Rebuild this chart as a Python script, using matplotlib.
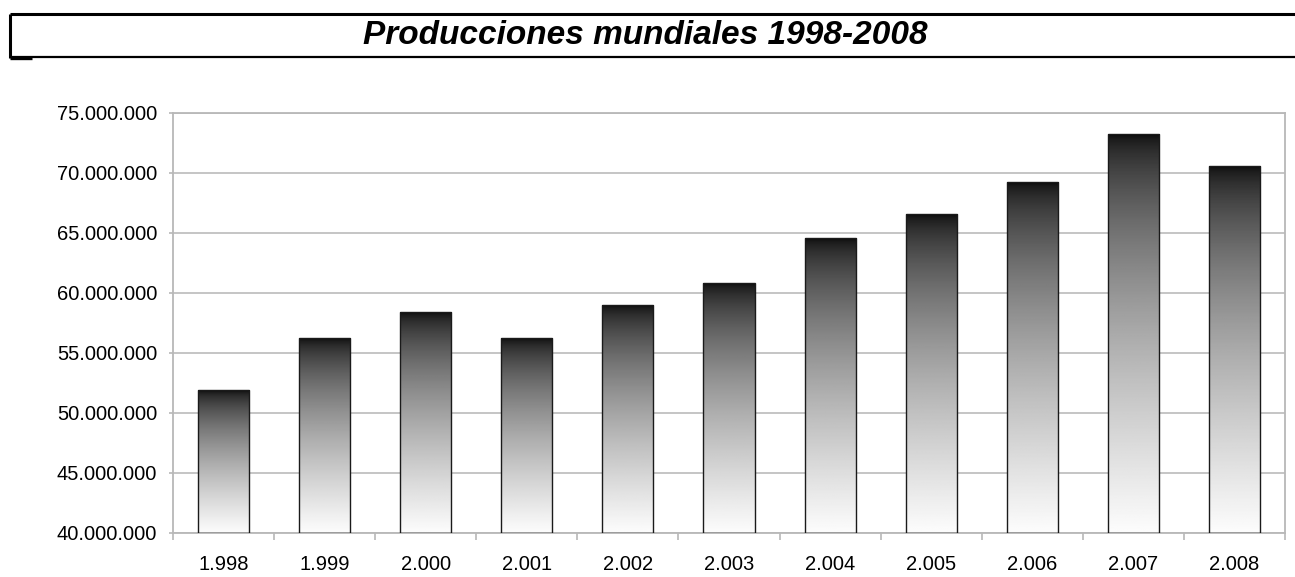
import numpy as np
import matplotlib
matplotlib.use("Agg")
import matplotlib.pyplot as plt
from matplotlib.lines import Line2D
from matplotlib.ticker import FuncFormatter, MultipleLocator, FixedLocator

plt.rcParams['font.family'] = ['Liberation Sans', 'DejaVu Sans']

title = "Producciones mundiales 1998-2008"
years = [1998, 1999, 2000, 2001, 2002, 2003, 2004, 2005, 2006, 2007, 2008]
production = [51_900_000, 56_230_000, 58_400_000, 56_250_000, 59_000_000, 60_800_000,
              64_580_000, 66_580_000, 69_250_000, 73_250_000, 70_580_000]
y_min, y_max, y_step = 40_000_000, 75_000_000, 5_000_000


def dotted(v):
    return f"{int(v):,}".replace(",", ".")


fig = plt.figure(figsize=(12.95, 5.77), dpi=100)
ax = fig.add_axes([173/1295, 44/577, 1112/1295, 420/577])

x = np.arange(len(years))
width = 0.505
bars = ax.bar(x, [v - y_min for v in production], width=width, bottom=y_min,
              facecolor='none', edgecolor='#1a1a1a', linewidth=1.0, zorder=3)

# gradient fill: dark at top, white at bottom
t = np.linspace(0, 1, 256)
g = 0.04 + 0.95 * t ** 0.6
grad = np.tile(g[:, None], (1, 2))
for b in bars:
    x0, y0 = b.get_x(), b.get_y()
    ax.imshow(grad, extent=(x0, x0 + b.get_width(), y0, y0 + b.get_height()),
              origin='upper', cmap='gray', vmin=0, vmax=1, aspect='auto',
              interpolation='bilinear', zorder=2)

ax.set_xlim(-0.5, len(years) - 0.5)
ax.set_ylim(y_min, y_max)
ax.yaxis.set_major_locator(MultipleLocator(y_step))
ax.yaxis.set_major_formatter(FuncFormatter(lambda v, p: dotted(v)))
ax.set_xticks(x)
ax.set_xticklabels([dotted(yr) for yr in years])
ax.xaxis.set_minor_locator(FixedLocator(np.arange(-0.5, len(years), 1.0)))

ax.grid(axis='y', color='#c0c0c0', linewidth=1.3, zorder=0)
ax.set_axisbelow(True)
for s in ax.spines.values():
    s.set_color('#b8b8b8')
    s.set_linewidth(1.3)

ax.tick_params(axis='y', which='major', length=3, width=1.2, color='#b8b8b8',
               pad=8.5, labelsize=14.5, labelcolor='black')
ax.tick_params(axis='x', which='major', length=0, pad=15.5, labelsize=14.5)
ax.tick_params(axis='x', which='minor', length=5, width=1.2, color='#b8b8b8')

# title box
H = 577
W = 1295
def px(xp, yp):
    return xp / W, 1 - yp / H
for (xa, ya, xb, yb, lw) in [(10, 14, 1300, 14, 2.2), (10, 57, 1300, 57, 1.6),
                             (10, 14, 10, 57.5, 2.2), (10, 58, 32, 58, 2.4)]:
    (fx0, fy0), (fx1, fy1) = px(xa, ya), px(xb, yb)
    fig.add_artist(Line2D([fx0, fx1], [fy0, fy1], transform=fig.transFigure,
                          color='black', linewidth=lw, solid_capstyle='butt'))

fig.text(645/W, 1 - 36/H, title, ha='center', va='center', fontsize=24,
         fontweight='bold', fontstyle='italic')

fig.savefig("out.png", dpi=100)
